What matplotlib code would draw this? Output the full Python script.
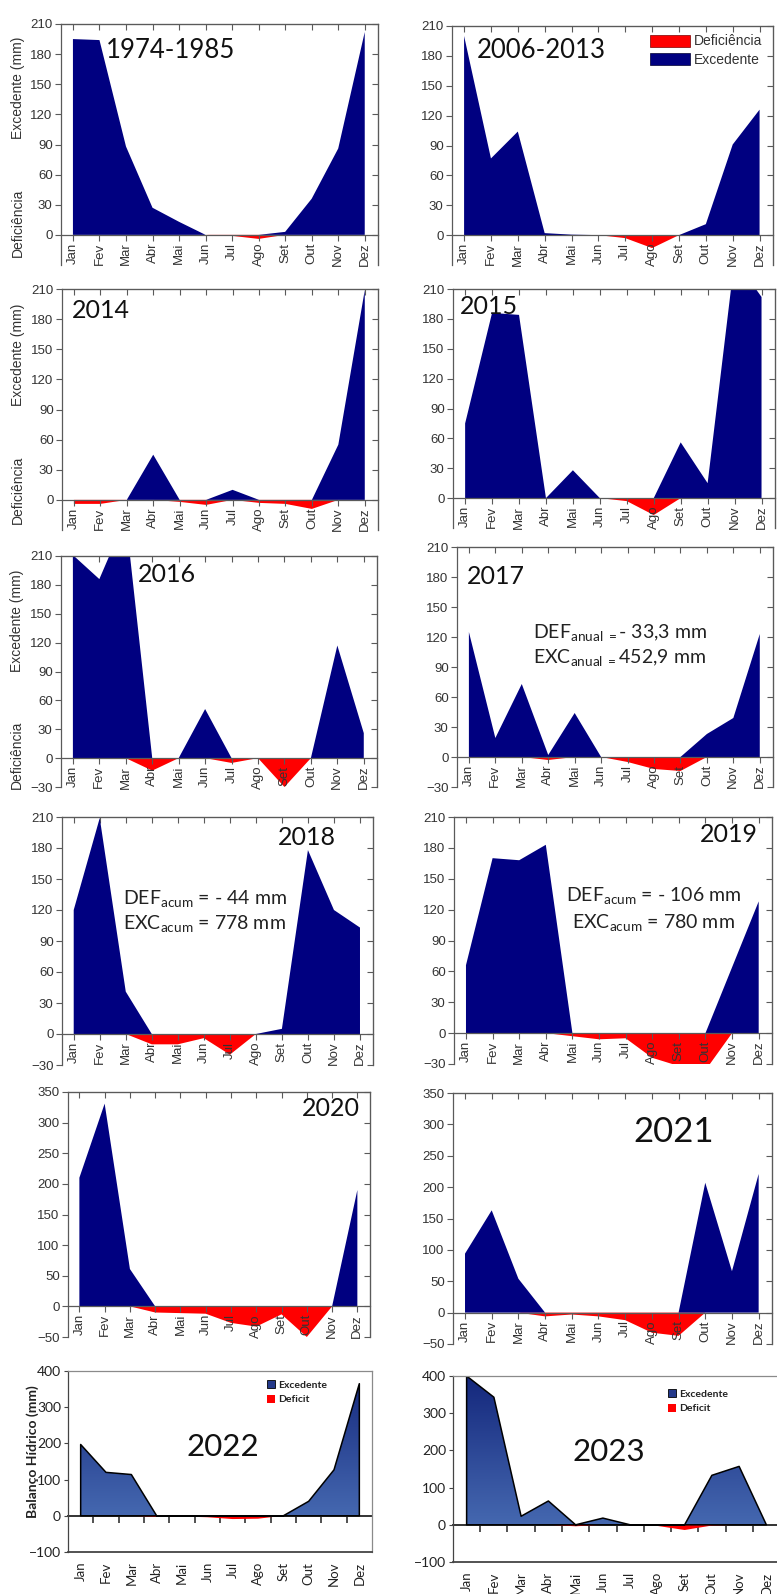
import numpy as np
import matplotlib
matplotlib.use('Agg')
import matplotlib.pyplot as plt
from matplotlib.patches import Patch
from matplotlib.ticker import NullFormatter
from matplotlib.colors import LinearSegmentedColormap

plt.rcParams['font.family'] = ['Liberation Sans', 'DejaVu Sans']
plt.rcParams['mathtext.fontset'] = 'custom'
plt.rcParams['mathtext.rm'] = 'Lato'
plt.rcParams['mathtext.it'] = 'Lato:italic'
plt.rcParams['mathtext.bf'] = 'Lato:bold'

# ---------------- data ----------------
months = ['Jan', 'Fev', 'Mar', 'Abr', 'Mai', 'Jun', 'Jul', 'Ago', 'Set', 'Out', 'Nov', 'Dez']

exc_1974_1985 = [195, 194, 88, 27, 13, 0, 0, 0, 3, 36, 86, 202]
def_1974_1985 = [0, 0, 0, 0, 0, 0, -1, -4, 0, 0, 0, 0]

exc_2006_2013 = [200, 77, 104, 2, 0.5, 0, 0, 0, 0, 11, 91, 126]
def_2006_2013 = [0, 0, 0, 0, -0.5, 0, -3, -13, 0, 0, 0, 0]

exc_2014 = [0, 0, 0, 45, 0, 0, 10, 0, 0, 0, 55, 209]
def_2014 = [-4, -4, 0, 0, -2, -5, 0, -3, -4, -9, 0, 0]

exc_2015 = [75, 186, 184, 0, 28, 0, 0, 0, 56, 15, 240, 202]
def_2015 = [0, 0, 0, 0, 0, 0, -3, -17, 0, 0, 0, 0]

exc_2016 = [211, 186, 250, 0, 0, 51, 0, 0, 0, 0, 117, 26]
def_2016 = [0, 0, 0, -13, 0, 0, -5, 0, -30, 0, 0, 0]

exc_2017 = [125, 19, 73, 2, 44, 0, 0, 0, 0, 23, 39, 123]
def_2017 = [0, 0, 0, -3, 0, 0, -5, -12, -14, 0, 0, 0]

exc_2018 = [120, 209, 41, 0, 0, 0, 0, 0, 5, 178, 120, 103]
def_2018 = [0, 0, 0, -10, -10, -4, -20, 0, 0, 0, 0, 0]

exc_2019 = [66, 170, 168, 183, 0, 0, 0, 0, 0, 0, 64, 128]
def_2019 = [0, 0, 0, 0, -3, -6, -5, -24, -32, -36, 0, 0]

exc_2020 = [210, 331, 61, 0, 0, 0, 0, 0, 0, 0, 0, 190]
def_2020 = [0, 0, 0, -10, -11, -12, -27, -33, -13, -50, 0, 0]

exc_2021 = [94, 163, 54, 0, 0, 0, 0, 0, 0, 207, 66, 221]
def_2021 = [0, 0, 0, -6, -3, -6, -12, -32, -37, 0, 0, 0]

exc_2022 = [197, 120, 114, 0, 0, 0, 0, 0, 0, 40, 127, 365]
def_2022 = [0, 0, 0, -3, -2, -4, -9, -8, 0, 0, 0, 0]

exc_2023 = [400, 343, 23, 64, 0, 18, 0, 0, 0, 133, 157, 0]
def_2023 = [0, 0, 0, 0, -4, 0, 0, -3, -14, -2, 0, 0]

# ---------------- style ----------------
W, H = 777, 1594
NAVY = '#000080'
RED = '#ff0000'
SP = '#5a5a5a'
TXT = '#333333'
GRAD = LinearSegmentedColormap.from_list('grad', ['#4568b0', '#14277c'])

fig = plt.figure(figsize=(W / 100, H / 100), dpi=100)
x = np.arange(1, 13)


def rect(x0, y0, x1, y1):
    return [x0 / W, 1 - y1 / H, (x1 - x0) / W, (y1 - y0) / H]


def fpt(px, py):
    return px / W, 1 - py / H


def sigma(box, exc, dfc, ymin, ymax, step, tick_from):
    ax = fig.add_axes(rect(*box))
    ax.spines['bottom'].set_position(('data', 0))
    ax.fill_between(x, dfc, 0, facecolor=RED, lw=0, zorder=1)
    ax.fill_between(x, exc, 0, facecolor=NAVY, lw=0, zorder=1.5)
    ax.set_xlim(0.55, 12.5)
    ax.set_ylim(ymin, ymax)
    yt = np.arange(tick_from, ymax + 1, step)
    ax.set_yticks(yt)
    ax.set_xticks(x, labels=months)
    for s in ax.spines.values():
        s.set_color(SP)
        s.set_linewidth(0.9)
    ax.tick_params(axis='both', colors=SP, labelcolor=TXT, labelsize=9.5,
                   length=4, width=0.8, direction='out', pad=2)
    ax.tick_params(axis='x', labelrotation=90, pad=1.5)
    top = ax.secondary_xaxis('top')
    top.set_xticks(x)
    top.xaxis.set_major_formatter(NullFormatter())
    top.tick_params(direction='in', length=4, width=0.8, colors=SP)
    for s in top.spines.values():
        s.set_color(SP)
    right = ax.secondary_yaxis('right')
    right.set_yticks(yt)
    right.yaxis.set_major_formatter(NullFormatter())
    right.tick_params(direction='in', length=4, width=0.8, colors=SP)
    for s in right.spines.values():
        s.set_color(SP)
    return ax


def excel(box, exc, dfc, leg_anchor):
    ax = fig.add_axes(rect(*box))
    poly = ax.fill_between(x, exc, 0, facecolor='none', edgecolor='none')
    im = ax.imshow(np.linspace(0, 1, 256).reshape(-1, 1), extent=(0.5, 12.5, 0, 400),
                   origin='lower', cmap=GRAD, aspect='auto', zorder=1)
    im.set_clip_path(poly.get_paths()[0], transform=ax.transData)
    ax.fill_between(x, dfc, 0, facecolor=RED, lw=0, zorder=1.2)
    ax.fill_between(x, exc, 0, facecolor='none', edgecolor='black', lw=1.1, zorder=2)
    ax.set_xlim(0.5, 12.5)
    ax.set_ylim(-100, 400)
    ax.set_yticks(np.arange(-100, 401, 100))
    ax.set_xticks(x, labels=months)
    for lbl in ax.get_xticklabels() + ax.get_yticklabels():
        lbl.set_fontfamily('Lato')
    ax.tick_params(axis='x', length=0, pad=7, labelsize=9.5, labelcolor='#222222', labelrotation=90)
    ax.tick_params(axis='y', length=3, pad=2, labelsize=10, labelcolor='#222222', color='#444444')
    for s in ax.spines.values():
        s.set_color('#8a8a8a')
        s.set_linewidth(0.9)
    ax.spines['left'].set_color('#444444')
    ax.spines['bottom'].set_color('#444444')
    ax.spines['bottom'].set_linewidth(1.3)
    zero = ax.secondary_xaxis(0.2)
    zero.set_xticks(np.arange(1.5, 12, 1))
    zero.xaxis.set_major_formatter(NullFormatter())
    zero.tick_params(direction='out', length=5, width=1.2, colors='#333333')
    for s in zero.spines.values():
        s.set_color('#333333')
        s.set_linewidth(1.4)
    handles = [Patch(facecolor='#24398a', edgecolor='black', lw=0.6, label='Excedente'),
               Patch(facecolor=RED, edgecolor='none', label='Deficit')]
    ax.legend(handles=handles, loc='upper left', bbox_to_anchor=leg_anchor, frameon=False,
              prop={'family': 'Lato', 'weight': 'bold', 'size': 7.5}, handlelength=0.8,
              handleheight=0.8, handletextpad=0.25, labelspacing=0.5,
              borderpad=0, borderaxespad=0, labelcolor='#222222')
    return ax


# ---------------- panels ----------------
a1 = sigma((61, 24, 378, 265), exc_1974_1985, def_1974_1985, -30, 210, 30, 0)
a2 = sigma((452, 26, 773, 265), exc_2006_2013, def_2006_2013, -30, 210, 30, 0)
a3 = sigma((62, 289, 378, 530), exc_2014, def_2014, -30, 210, 30, 0)
a4 = sigma((453, 289, 775, 528), exc_2015, def_2015, -30, 210, 30, 0)
a5 = sigma((61, 556, 377, 787), exc_2016, def_2016, -30, 210, 30, -30)
a6 = sigma((457, 547, 773, 787), exc_2017, def_2017, -30, 210, 30, -30)
a7 = sigma((62, 817, 373, 1065), exc_2018, def_2018, -30, 210, 30, -30)
a8 = sigma((454, 817, 772, 1064), exc_2019, def_2019, -30, 210, 30, -30)
a9 = sigma((68, 1092, 370, 1337), exc_2020, def_2020, -50, 350, 50, -50)
a10 = sigma((453, 1093, 772, 1344), exc_2021, def_2021, -50, 350, 50, -50)
a11 = excel((68, 1371, 372, 1552), exc_2022, def_2022, (0.655, 0.95))
a12 = excel((453, 1376, 780, 1562), exc_2023, def_2023, (0.657, 0.93))

# legend of 2006-2013
a2.legend(handles=[Patch(facecolor=RED, edgecolor='#7a0000', lw=0.5, label='Deficiência'),
                   Patch(facecolor=NAVY, edgecolor='#000030', lw=0.5, label='Excedente')],
          loc='upper left', bbox_to_anchor=(0.617, 0.965), frameon=False, fontsize=10,
          handlelength=2.9, handleheight=0.95, handletextpad=0.25, labelspacing=0.3,
          borderpad=0, borderaxespad=0, labelcolor=TXT)

# left-column axis labels
for (px, py, s) in [(18, 88, 'Excedente (mm)'), (18, 223, 'Deficiência'),
                    (18, 355, 'Excedente (mm)'), (18, 490, 'Deficiência'),
                    (17, 621, 'Excedente (mm)'), (17, 755, 'Deficiência')]:
    fig.text(*fpt(px, py), s, rotation=90, ha='center', va='center', fontsize=10, color=TXT)
fig.text(*fpt(33, 1452), 'Balanço Hídrico (mm)', rotation=90, ha='center', va='center',
         fontsize=10, fontweight='bold', family='Lato', color='#222222')

# panel titles
titles = [(106, 51, '1974-1985', 18.5), (477, 50, '2006-2013', 18.5),
          (72, 311, '2014', 18), (460, 306, '2015', 18),
          (138, 574, '2016', 18), (467, 576, '2017', 18),
          (278, 838, '2018', 18), (700, 834, '2019', 18),
          (302, 1108, '2020', 18), (633, 1132, '2021', 25),
          (187, 1447, '2022', 22.5), (573, 1452, '2023', 22.5)]
for (px, py, s, fs) in titles:
    fig.text(*fpt(px, py), s, ha='left', va='center', fontsize=fs, family='Lato', color='#111111')

# annotations
notes = [(533, 632, r'DEF$_{\mathrm{anual\ =}}$- 33,3 mm'),
         (533, 658, r'EXC$_{\mathrm{anual\ =}}$452,9 mm'),
         (123, 898, r'DEF$_{\mathrm{acum}}$ = - 44 mm'),
         (123, 923, r'EXC$_{\mathrm{acum}}$ = 778 mm'),
         (566, 896, r'DEF$_{\mathrm{acum}}$ = - 106 mm'),
         (572, 922, r'EXC$_{\mathrm{acum}}$ = 780 mm')]
for (px, py, s) in notes:
    fig.text(*fpt(px, py), s, ha='left', va='center', fontsize=14, family='Lato', color='#222222')

fig.savefig('out.png', dpi=100)
